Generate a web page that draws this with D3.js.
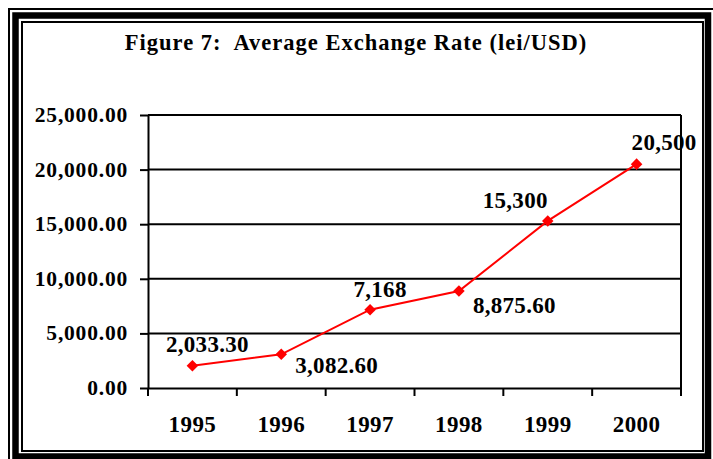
<!DOCTYPE html>
<html>
<head>
<meta charset="utf-8">
<script src="https://cdn.jsdelivr.net/npm/d3@7"></script>
<style>
  html, body { margin: 0; padding: 0; background: #fff; }
  svg { display: block; }
  text { font-family: "Liberation Serif", "Times New Roman", serif; font-weight: bold; fill: #000; }
</style>
</head>
<body>
<svg id="chart" width="713" height="459"></svg>
<script>
const title = "Figure 7:  Average Exchange Rate (lei/USD)";
const years = ["1995", "1996", "1997", "1998", "1999", "2000"];
const rates = [2033.30, 3082.60, 7168, 8875.60, 15300, 20500];
const valueLabels = ["2,033.30", "3,082.60", "7,168", "8,875.60", "15,300", "20,500"];
const yTicks = [0, 5000, 10000, 15000, 20000, 25000];
// label placement relative to each point: [anchor, dx, dy]
const labelPlacement = [["middle", 15, -14], ["start", 14, 19], ["middle", 10, -13], ["start", 14, 22], ["end", 0, -13], ["start", -5, -14]];

const svg = d3.select("#chart");

// frames
svg.append("rect").attr("x", 9).attr("y", 9).attr("width", 720).attr("height", 470)
  .attr("fill", "none").attr("stroke", "#000").attr("stroke-width", 2);
svg.append("rect").attr("x", 15.5).attr("y", 15.5).attr("width", 692.5).attr("height", 441)
  .attr("fill", "none").attr("stroke", "#000").attr("stroke-width", 6.5);
svg.append("rect").attr("x", 22).attr("y", 22).attr("width", 681).attr("height", 429)
  .attr("fill", "none").attr("stroke", "#000").attr("stroke-width", 2);

const m = { left: 148, right: 681, top: 115, bottom: 388 };

const x = d3.scaleBand().domain(years).range([m.left, m.right]).padding(0);
const y = d3.scaleLinear().domain([0, 25000]).range([m.bottom, m.top]);

// title
svg.append("text").attr("x", 356).attr("y", 50).attr("text-anchor", "middle")
  .style("font-size", "22.5px").style("letter-spacing", "1px").style("white-space", "pre").text(title);

// gridlines
svg.append("g").selectAll("line").data(yTicks.filter(d => d > 0)).join("line")
  .attr("x1", m.left).attr("x2", m.right)
  .attr("y1", d => y(d)).attr("y2", d => y(d))
  .attr("stroke", "#000").attr("stroke-width", 2);

// right border of plot area
svg.append("line").attr("x1", m.right).attr("x2", m.right)
  .attr("y1", m.top).attr("y2", m.bottom)
  .attr("stroke", "#000").attr("stroke-width", 2);

// y axis
const yAxis = d3.axisLeft(y).tickValues(yTicks).tickSize(8).tickSizeOuter(0)
  .tickFormat(d3.format(",.2f")).tickPadding(12);
const gy = svg.append("g").attr("transform", `translate(${m.left},0)`).call(yAxis);
gy.select(".domain").attr("stroke", "#000").attr("stroke-width", 2);
gy.selectAll(".tick line").attr("stroke", "#000").attr("stroke-width", 2);
gy.selectAll(".tick text").attr("dy", "0.3em").attr("font-family", null)
  .style("font-size", "21.5px").style("letter-spacing", "0.8px").attr("fill", "#000");

// x axis
const xAxis = d3.axisBottom(x).tickSize(0).tickSizeOuter(0).tickPadding(0);
const gx = svg.append("g").attr("transform", `translate(0,${m.bottom})`).call(xAxis);
gx.select(".domain").attr("stroke", "#000").attr("stroke-width", 2);
gx.selectAll(".tick text").attr("y", 44).attr("dy", 0).attr("font-family", null)
  .style("font-size", "23px").style("letter-spacing", "0.4px").attr("fill", "#000");
// category boundary ticks
const bounds = years.map(d => x(d)).concat([x(years[years.length - 1]) + x.bandwidth()]);
gx.append("g").selectAll("line").data(bounds).join("line")
  .attr("x1", d => d).attr("x2", d => d).attr("y1", 0).attr("y2", 8)
  .attr("stroke", "#000").attr("stroke-width", 2);

const cx = d => x(d) + x.bandwidth() / 2;

// line
const line = d3.line().x((d, i) => cx(years[i])).y(d => y(d));
svg.append("path").datum(rates).attr("d", line)
  .attr("fill", "none").attr("stroke", "#ff0000").attr("stroke-width", 2);

// markers (diamonds)
svg.append("g").selectAll("path").data(rates).join("path")
  .attr("d", d3.symbol().type(d3.symbolDiamond2).size(85))
  .attr("transform", (d, i) => `translate(${cx(years[i])},${y(d)})`)
  .attr("fill", "#ff0000");

// value labels
svg.append("g").selectAll("text").data(rates).join("text")
  .attr("x", (d, i) => cx(years[i]) + labelPlacement[i][1])
  .attr("y", (d, i) => y(d) + labelPlacement[i][2])
  .attr("text-anchor", (d, i) => labelPlacement[i][0])
  .style("font-size", "23px").style("letter-spacing", "0.3px")
  .text((d, i) => valueLabels[i]);

// redraw right border over labels
svg.append("line").attr("x1", m.right).attr("x2", m.right)
  .attr("y1", m.top).attr("y2", m.bottom + 8)
  .attr("stroke", "#000").attr("stroke-width", 2);
</script>
</body>
</html>
